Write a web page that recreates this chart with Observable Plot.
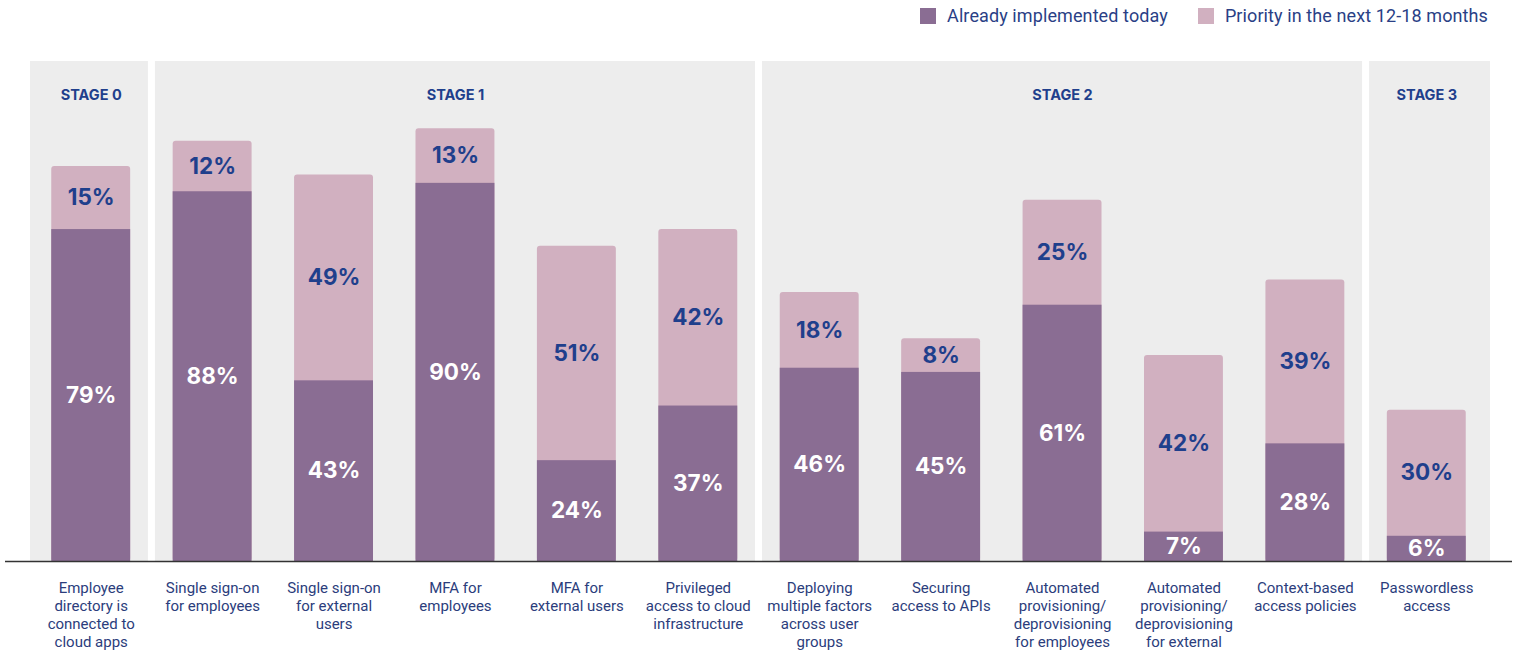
<!DOCTYPE html>
<html><head><meta charset="utf-8">
<script src="https://cdn.jsdelivr.net/npm/d3@7"></script>
<script src="https://cdn.jsdelivr.net/npm/@observablehq/plot@0.6"></script>
<style>
body{margin:0;background:#fff;font-family:Roboto,"Noto Sans",sans-serif;}
#wrap{position:relative;width:1517px;height:652px;overflow:hidden}
#legend{position:absolute;top:4px;right:29px;display:flex;gap:30px;font-size:18px;color:#2a3f86;z-index:2;letter-spacing:0.1px}
.item{display:flex;align-items:center;gap:11px;line-height:24px}
.sw{width:16px;height:16px;display:inline-block}
#chart{position:absolute;top:0;left:0}
</style></head><body>
<div id="wrap"><div id="legend"></div><div id="chart"></div></div>
<script>
const categories = [
  "Employee\ndirectory is\nconnected to\ncloud apps",
  "Single sign-on\nfor employees",
  "Single sign-on\nfor external\nusers",
  "MFA for\nemployees",
  "MFA for\nexternal users",
  "Privileged\naccess to cloud\ninfrastructure",
  "Deploying\nmultiple factors\nacross user\ngroups",
  "Securing\naccess to APIs",
  "Automated\nprovisioning/\ndeprovisioning\nfor employees",
  "Automated\nprovisioning/\ndeprovisioning\nfor external",
  "Context-based\naccess policies",
  "Passwordless\naccess"
];
const implemented = [79, 88, 43, 90, 24, 37, 46, 45, 61, 7, 28, 6];
const priority    = [15, 12, 49, 13, 51, 42, 18, 8, 25, 42, 39, 30];
const categoryStage = [0, 1, 1, 1, 1, 1, 2, 2, 2, 2, 2, 3];
const stages = ["STAGE 0", "STAGE 1", "STAGE 2", "STAGE 3"];
const seriesNames = ["Already implemented today", "Priority in the next 12-18 months"];
const colors = ["#8a6d93", "#d1b0c0"];

const panelTop = 119;
const stageLabelY = 111;
const blue = "#1f3f8c";

const rows = categories.map((c, i) => ({
  category: c,
  stage: stages[categoryStage[i]],
  implemented: implemented[i],
  priority: priority[i],
  total: implemented[i] + priority[i]
}));

const stageRows = stages.map(s => {
  const cats = rows.filter(d => d.stage === s).map(d => d.category);
  return {stage: s, first: cats[0], last: cats[cats.length - 1], mid: cats[Math.floor(cats.length / 2)]};
});

function panels(index, scales) {
  const x = scales.x, y = scales.y;
  const bw = typeof x.bandwidth === "function" ? x.bandwidth() : x.bandwidth;
  const step = x(categories[1]) - x(categories[0]);
  const pad = (step - bw) / 2;
  const g = d3.create("svg:g");
  stageRows.forEach((s, si) => {
    let left = x(s.first) - pad;
    let right = x(s.last) + bw + pad;
    if (si > 0) left += 3.5;
    if (si < stageRows.length - 1) right -= 3.5; else right += 3;
    g.append("rect")
      .attr("x", left).attr("width", right - left)
      .attr("y", y(panelTop)).attr("height", y(0) - y(panelTop))
      .attr("fill", "#ededed");
  });
  return g.node();
}

const chart = Plot.plot({
  width: 1517,
  height: 652,
  marginLeft: 30,
  marginRight: 30,
  marginTop: 61,
  marginBottom: 91,
  x: {domain: categories, paddingInner: 0.35, paddingOuter: 0.175, round: false, axis: null},
  y: {domain: [0, panelTop], axis: null},
  style: {fontFamily: "Inter, Roboto, sans-serif", background: "transparent", overflow: "visible"},
  marks: [
    panels,
    Plot.text(stageRows, {x: "mid", y: () => stageLabelY, text: "stage", fill: blue, fontSize: 14.5, fontWeight: 700}),
    Plot.barY(rows, {x: "category", y1: 0, y2: "total", fill: colors[1], rx: 3}),
    Plot.barY(rows, {x: "category", y1: 0, y2: "implemented", fill: colors[0]}),
    Plot.text(rows, {x: "category", y: d => d.implemented / 2, text: d => d.implemented + "%", fill: "white", fontSize: 22.5, fontWeight: 700}),
    Plot.text(rows, {x: "category", y: d => d.implemented + d.priority / 2, text: d => d.priority + "%", fill: blue, fontSize: 22.5, fontWeight: 700}),
    Plot.ruleY([0], {stroke: "#333", strokeWidth: 1.3, insetLeft: -25, insetRight: -25}),
    Plot.text(rows, {x: "category", y: () => 0, text: "category", lineAnchor: "top", dy: 19, fontSize: 15, lineHeight: 1.2, fill: "#2b3d7c", fontFamily: "Roboto, sans-serif"})
  ]
});
document.getElementById("chart").appendChild(chart);

const legend = document.getElementById("legend");
seriesNames.forEach((n, i) => {
  const it = document.createElement("div");
  it.className = "item";
  const sw = document.createElement("span");
  sw.className = "sw";
  sw.style.background = colors[i];
  const t = document.createElement("span");
  t.textContent = n;
  it.appendChild(sw); it.appendChild(t);
  legend.appendChild(it);
});
</script>
</body></html>
